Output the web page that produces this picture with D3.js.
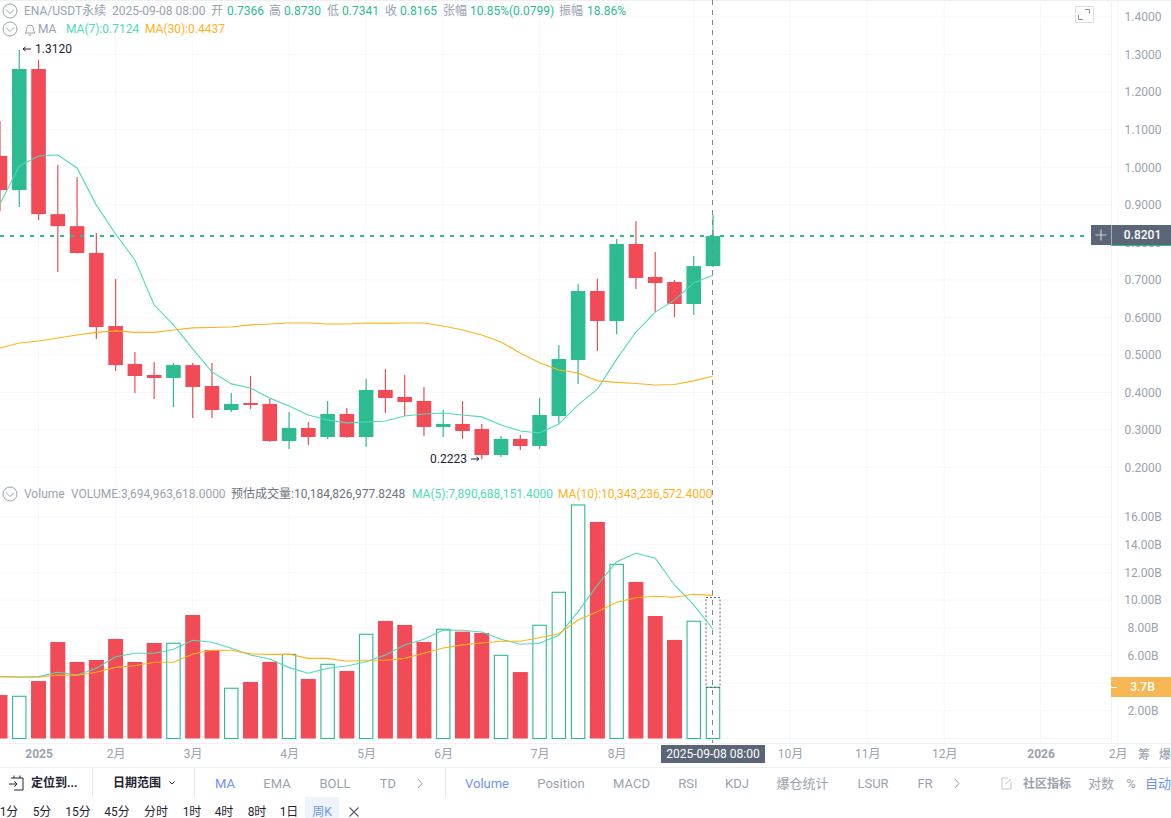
<!DOCTYPE html>
<html><head><meta charset="utf-8">
<script src="https://cdn.jsdelivr.net/npm/d3@7/dist/d3.min.js"></script>
<style>
html,body{margin:0;padding:0;background:#fff;overflow:hidden}
svg{display:block}
text{font-family:Roboto,"Noto Sans CJK SC",sans-serif;font-size:12px}
</style></head><body>
<svg id="c" width="1171" height="818"></svg>
<script>
const weeks=["2024-12-23","2024-12-30","2025-01-06","2025-01-13","2025-01-20","2025-01-27","2025-02-03","2025-02-10","2025-02-17","2025-02-24","2025-03-03","2025-03-10","2025-03-17","2025-03-24","2025-03-31","2025-04-07","2025-04-14","2025-04-21","2025-04-28","2025-05-05","2025-05-12","2025-05-19","2025-05-26","2025-06-02","2025-06-09","2025-06-16","2025-06-23","2025-06-30","2025-07-07","2025-07-14","2025-07-21","2025-07-28","2025-08-04","2025-08-11","2025-08-18","2025-08-25","2025-09-01","2025-09-08"];
const open=[1.030,.939,1.2615,.875,.843,.7715,.577,.476,.4466,.4387,.473,.4173,.3534,.3721,.3694,.2709,.3055,.2815,.3428,.2815,.4067,.388,.3774,.3082,.3162,.3028,.2336,.2762,.2576,.3374,.4866,.6703,.5904,.7955,.7076,.6943,.6357,.7366];
const close=[.939,1.2615,.875,.843,.7715,.5745,.473,.444,.4387,.473,.4147,.3534,.3694,.3668,.2709,.3055,.2815,.3428,.2815,.4067,.3854,.3747,.3082,.3162,.2975,.2336,.2762,.2576,.3401,.4893,.6703,.5904,.7955,.705,.6916,.6357,.7366,.8165];
const high=[1.123,1.312,1.2855,1.006,.974,.825,.702,.508,.481,.4786,.4786,.4786,.399,.444,.383,.348,.3215,.3774,.3588,.436,.4626,.4466,.4147,.3534,.3774,.3162,.2842,.2869,.3854,.5265,.689,.702,.8088,.8567,.7742,.6996,.7635,.873];
const low=[.883,.894,.859,.721,.770,.5425,.457,.399,.383,.361,.332,.332,.348,.356,.268,.2496,.2602,.2762,.279,.2549,.3455,.3375,.2842,.2815,.2762,.2223,.2283,.2469,.2496,.3188,.4227,.5106,.5558,.6757,.6144,.6011,.6064,.7341];
const ma7=[.902,1.003,1.030,1.0325,.998,.899,.822,.753,.633,.580,.516,.455,.423,.412,.385,.364,.340,.327,.319,.3215,.324,.3375,.3428,.3455,.340,.335,.3135,.2975,.292,.316,.367,.409,.489,.561,.614,.646,.692,.7124];
const ma30=[.5185,.532,.537,.545,.553,.560,.564,.560,.560,.5665,.572,.573,.5745,.580,.5825,.585,.585,.5825,.5825,.585,.584,.585,.585,.577,.5665,.553,.5345,.505,.479,.460,.452,.431,.427,.424,.420,.4215,.431,.4437];
const volume=[3.14,3.05,4.15,6.97,5.53,5.67,7.19,5.53,6.9,6.88,8.92,6.39,3.63,4.08,5.53,6.08,4.3,5.36,4.88,7.53,8.49,8.2,6.97,7.89,7.72,7.62,6.01,4.8,8.18,10.56,16.87,15.64,12.58,11.31,8.85,7.12,8.47,3.695];
const volMa5=[4.47,4.42,4.47,4.78,4.59,5.07,5.91,6.16,6.16,6.45,7.10,6.95,6.52,6.03,5.74,5.12,4.71,5.07,5.24,5.55,6.03,6.76,7.17,7.84,7.82,7.69,7.17,6.81,6.88,7.46,9.16,11.09,12.77,13.38,13.02,11.09,9.65,7.89];
const volMa10=[4.47,4.44,4.42,4.59,4.57,4.78,5.14,5.26,5.51,5.51,6.11,6.37,6.37,6.11,6.08,6.08,5.79,5.79,5.58,5.65,5.65,5.79,6.16,6.54,6.76,6.90,7.02,7.02,7.28,7.57,8.56,9.16,9.84,10.17,10.27,10.20,10.42,10.34];
const predictedVolume=10.185;
const lastPrice=.8201;
const priceTicks=[1.4,1.3,1.2,1.1,1.0,.9,.8,.7,.6,.5,.4,.3,.2];
const volTicks=[2,4,6,8,10,12,14,16];
const timeTicks=["2025-01-06","2025-02-03","2025-03-03","2025-04-07","2025-05-05","2025-06-02","2025-07-07","2025-08-04","2025-09-01","2025-10-06","2025-11-03","2025-12-01","2026-01-05","2026-02-02"];
const timeLabels=["2025","2月","3月","4月","5月","6月","7月","8月","","10月","11月","12月","2026","2月"];

const GREEN="#2DBB92",RED="#F04B57",TEAL="#4FDABB",ORANGE="#FFB31A",GRAY="#9AA2AF",GRID="#F6F7F9",SLATE="#5A6678",BLUE="#6E92F5",DARK="#1F2430";
const svg=d3.select("#c");
const P=d=>new Date(d+"T00:00:00Z");
const x=d3.scaleUtc().domain([P("2024-12-23"),P("2026-02-02")]).range([0,1117.7]);
const y=d3.scaleLinear().domain([.2,1.4]).range([467.6,17]);
const v=d3.scaleLinear().domain([0,16]).range([738.5,517]);
const bw=14.6, idx=d3.range(weeks.length), X=i=>x(P(weeks[i]));
const gl=(sel,cls,data)=>sel.selectAll("line."+cls).data(data).join("line").attr("class",cls).attr("stroke",GRID);

const g=svg.append("g");
gl(g,"vg",timeTicks).attr("x1",d=>x(P(d))).attr("x2",d=>x(P(d))).attr("y1",2).attr("y2",743);
gl(g,"hp",priceTicks).attr("x1",0).attr("x2",1111).attr("y1",d=>y(d)).attr("y2",d=>y(d));
gl(g,"hv",[0,...volTicks]).attr("x1",0).attr("x2",1111).attr("y1",d=>v(d)).attr("y2",d=>v(d));
g.append("line").attr("x1",1111.5).attr("x2",1111.5).attr("y1",2).attr("y2",743).attr("stroke","#F1F2F4");
g.append("line").attr("x1",0).attr("x2",1171).attr("y1",.5).attr("y2",.5).attr("stroke","#EEEFF1");
g.append("line").attr("x1",0).attr("x2",1171).attr("y1",743.5).attr("y2",743.5).attr("stroke","#F1F2F4");
g.append("line").attr("x1",0).attr("x2",1171).attr("y1",767.5).attr("y2",767.5).attr("stroke","#EEEFF1");

const up=i=>close[i]>=open[i];
// volume
svg.append("g").selectAll("rect").data(idx).join("rect")
 .attr("x",i=>X(i)-(up(i)?bw/2-.6:bw/2+.2)).attr("width",i=>up(i)?bw-1.2:bw+.4)
 .attr("y",i=>v(volume[i])).attr("height",i=>v(0)-v(volume[i]))
 .attr("fill",i=>up(i)?"#fff":RED).attr("stroke",i=>up(i)?GREEN:"none").attr("stroke-width",1.1);
// predicted volume
svg.append("rect").attr("x",X(37)-7).attr("width",14).attr("y",v(predictedVolume)).attr("height",v(volume[37])-v(predictedVolume))
 .attr("fill","none").attr("stroke","#555").attr("stroke-dasharray","2,2").attr("stroke-width",.9);
// wicks + bodies
svg.append("g").selectAll("line").data(idx).join("line")
 .attr("x1",X).attr("x2",X).attr("y1",i=>y(high[i])).attr("y2",i=>y(low[i]))
 .attr("stroke",i=>up(i)?GREEN:RED).attr("stroke-width",1.2);
svg.append("g").selectAll("rect").data(idx).join("rect")
 .attr("x",i=>X(i)-bw/2).attr("width",bw)
 .attr("y",i=>y(Math.max(open[i],close[i]))).attr("height",i=>Math.max(1.5,Math.abs(y(open[i])-y(close[i]))))
 .attr("fill",i=>up(i)?GREEN:RED);
// MA lines
const path=(scale,arr,col)=>svg.append("path").attr("d",d3.line().x(i=>X(i)).y(i=>scale(arr[i]))(idx)).attr("fill","none").attr("stroke",col).attr("stroke-width",1.1);
path(y,ma7,TEAL);path(y,ma30,ORANGE);path(v,volMa5,TEAL);path(v,volMa10,ORANGE);

// crosshair + last close line
svg.append("line").attr("x1",712.5).attr("x2",712.5).attr("y1",0).attr("y2",743).attr("stroke","#7C8695").attr("stroke-dasharray","5,5");
svg.append("line").attr("x1",0).attr("x2",1088).attr("y1",y(close[37])).attr("y2",y(close[37])).attr("stroke",GREEN).attr("stroke-width",2).attr("stroke-dasharray","4,6");

// axes
const ay=svg.append("g").attr("transform","translate(1143,0)").call(d3.axisRight(y).tickValues(priceTicks).tickSize(0).tickFormat(d3.format(".4f")));
const av=svg.append("g").attr("transform","translate(1143,0)").call(d3.axisRight(v).tickValues(volTicks).tickSize(0).tickFormat(d=>d3.format(".2f")(d)+"B"));
[ay,av].forEach(a=>{a.select(".domain").remove();a.selectAll("text").attr("x",0).attr("text-anchor","middle").attr("fill",GRAY).style("font-size","12px").style("font-family",'Roboto,"Noto Sans CJK SC",sans-serif');});
const ax=svg.append("g").attr("transform","translate(0,749)").call(d3.axisBottom(x).tickValues(timeTicks.map(P)).tickSize(0).tickFormat((d,i)=>timeLabels[i]));
ax.select(".domain").remove();
ax.selectAll("text").attr("y",0).attr("dy",".71em").attr("fill",GRAY).style("font-size","12px").style("font-family",'Roboto,"Noto Sans CJK SC",sans-serif').style("font-weight",(d,i)=>/^20/.test(timeLabels[i])?"700":"400");

const T=(px,py,s,col,o={})=>svg.append("text").attr("x",px).attr("y",py).attr("dy",".35em").attr("fill",col).attr("text-anchor",o.a||"start").style("font-weight",o.w||400).style("font-size",(o.s||12)+"px").text(s);

// price tags
svg.append("rect").attr("x",1091).attr("y",225).attr("width",20).attr("height",20).attr("fill",SLATE);
svg.append("path").attr("d","M1095.5 235H1106.5M1101 229.5V240.5").attr("stroke","#C9CED6").attr("stroke-width",1.2);
svg.append("rect").attr("x",1111.5).attr("y",225).attr("width",60).attr("height",20).attr("fill",SLATE);
svg.append("line").attr("x1",1111).attr("x2",1171).attr("y1",245.5).attr("y2",245.5).attr("stroke",GREEN);
T(1142.5,235,d3.format(".4f")(lastPrice),"#fff",{a:"middle",w:500});
svg.append("rect").attr("x",1111).attr("y",677).attr("width",60).attr("height",20).attr("fill","#F6B44D").attr("opacity",.96);
svg.append("line").attr("x1",1111).attr("x2",1117).attr("y1",687.5).attr("y2",687.5).attr("stroke","#fff");
T(1142.5,687,"3.7B","#fff",{a:"middle",w:500});
svg.append("rect").attr("x",661).attr("y",745).attr("width",104).attr("height",18).attr("fill",SLATE);
T(713,754,"2025-09-08 08:00","#fff",{a:"middle",w:400});
T(1144,754.5,"筹",GRAY,{a:"middle",w:500});T(1165,754.5,"爆",GRAY,{a:"middle",w:500});

// extreme marks
T(35,49,"1.3120",DARK);
svg.append("path").attr("d","M31 49H23M25.5 47L23 49L25.5 51").attr("fill","none").attr("stroke",DARK);
T(430,459,"0.2223",DARK);
svg.append("path").attr("d","M471 459H479M476.5 457L479 459L476.5 461").attr("fill","none").attr("stroke",DARK);

// legends
const chev=(cx,cy)=>{svg.append("circle").attr("cx",cx).attr("cy",cy).attr("r",7).attr("fill","#fff").attr("stroke",GRAY);
 svg.append("path").attr("d",`M${cx-4} ${cy-1.5}L${cx} ${cy+2.5}L${cx+4} ${cy-1.5}`).attr("fill","none").attr("stroke",GRAY);};
chev(10,11);chev(10,29);chev(10,494);
[[24,"ENA/USDT永续",GRAY],[112,"2025-09-08 08:00",GRAY],[211,"开",GRAY],[227,"0.7366",GREEN],[269,"高",GRAY],[284,"0.8730",GREEN],[327,"低",GRAY],[342,"0.7341",GREEN],[385,"收",GRAY],[400,"0.8165",GREEN],[443,"张幅",GRAY],[470,"10.85%(0.0799)",GREEN],[559,"振幅",GRAY],[587,"18.86%",GREEN]].forEach(d=>T(d[0],10.5,d[1],d[2]));
svg.append("path").attr("d","M25 33H35C33.5 32 33.5 30.5 33.5 28.5A3.5 3.5 0 0 0 26.5 28.5C26.5 30.5 26.5 32 25 33ZM28.5 35H31.5").attr("fill","none").attr("stroke",GRAY);
[[38,"MA",GRAY],[66,"MA(7):0.7124",TEAL],[145,"MA(30):0.4437",ORANGE]].forEach(d=>T(d[0],29,d[1],d[2]));
[[24,"Volume",GRAY],[71,"VOLUME:3,694,963,618.0000",GRAY],[231,"预估成交量:10,184,826,977.8248","#6D7480"],[412,"MA(5):7,890,688,151.4000",TEAL],[558,"MA(10):10,343,236,572.4000",ORANGE]].forEach(d=>T(d[0],494,d[1],d[2]));

// fullscreen icon
svg.append("rect").attr("x",1075.5).attr("y",6.5).attr("width",18).attr("height",16).attr("fill","#fff").attr("stroke","#DDDFE3");
svg.append("path").attr("d","M1085 9.5H1089.5V13.5M1078.5 15V19.5H1083").attr("fill","none").attr("stroke","#8A93A1");

// toolbar
[92,194,445].forEach(px=>svg.append("line").attr("x1",px+.5).attr("x2",px+.5).attr("y1",768).attr("y2",797).attr("stroke","#E6E8EB"));
svg.append("path").attr("d","M11 778H23V790H14M9 784H17M14.5 781.5L17 784L14.5 786.5M14 775.5V778M20 775.5V778").attr("fill","none").attr("stroke",DARK);
T(31,783,"定位到...",DARK,{w:700});T(113,783,"日期范围",DARK,{w:700});
svg.append("path").attr("d","M169.5 781.5L172 784L174.5 781.5").attr("fill","none").attr("stroke",DARK);
[[225,"MA",BLUE],[277,"EMA",GRAY],[335,"BOLL",GRAY],[388,"TD",GRAY],[487,"Volume",BLUE],[561,"Position",GRAY],[631.5,"MACD",GRAY],[688,"RSI",GRAY],[737,"KDJ",GRAY],[802.5,"爆仓统计",GRAY],[873,"LSUR",GRAY],[925,"FR",GRAY],[1101,"对数",GRAY],[1131,"%",GRAY],[1158,"自动",BLUE]].forEach(d=>T(d[0],783.5,d[1],d[2],{a:"middle",s:13}));
T(1047,783.5,"社区指标",GRAY,{a:"middle",w:700});
["M418 779L422 783.5L418 788","M955 779L959 783.5L955 788"].forEach(d=>svg.append("path").attr("d",d).attr("fill","none").attr("stroke",GRAY));
svg.append("path").attr("d","M1008 778H1002V789H1011V782M1006 784L1011 779").attr("fill","none").attr("stroke","#C3C7CE");
svg.append("rect").attr("x",305).attr("y",797).attr("width",34).attr("height",21).attr("fill","#EDF4FD");
[[9,"1分",DARK],[42,"5分",DARK],[78,"15分",DARK],[117,"45分",DARK],[156,"分时",DARK],[192,"1时",DARK],[224,"4时",DARK],[257,"8时",DARK],[289,"1日",DARK],[322,"周K",BLUE]].forEach(d=>T(d[0],812,d[1],d[2],{a:"middle"}));
svg.append("path").attr("d","M349.5 807.5L358.5 816.5M358.5 807.5L349.5 816.5").attr("stroke","#555C68").attr("stroke-width",1.1);
</script></body></html>
